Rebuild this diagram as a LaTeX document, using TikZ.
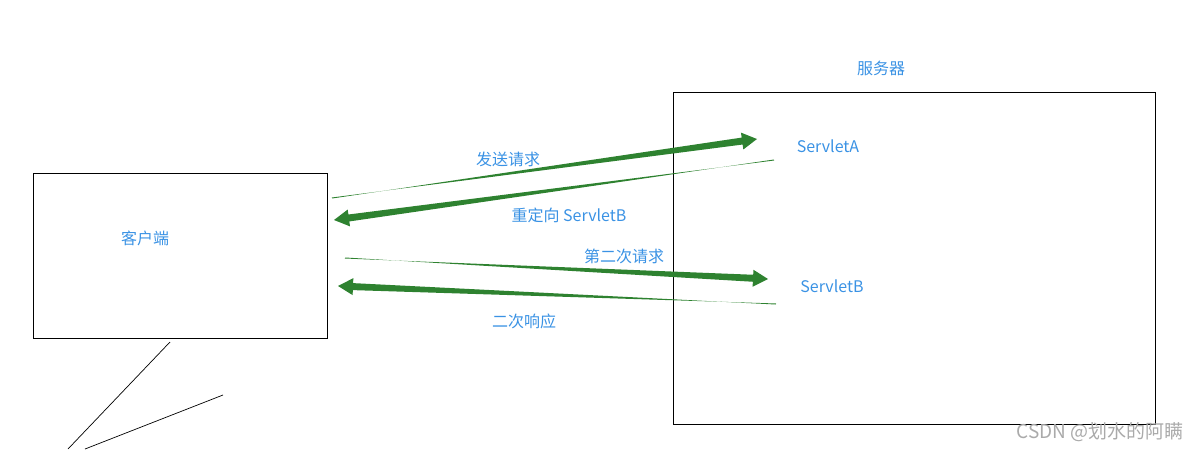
\documentclass[tikz,border=0pt]{standalone}
\usepackage{fontspec}
\newfontfamily\cjk{Noto Sans CJK SC}
\usetikzlibrary{calc,positioning}
\definecolor{flowgreen}{RGB}{46,130,48}
\definecolor{labelblue}{RGB}{58,146,228}
\definecolor{markgray}{RGB}{170,170,170}

% tapered arrow from a thin tail to a thick head
\newcommand{\taperarrow}[2]{%
\path (#2) coordinate (tip) ($(#2)!15pt!(#1)$) coordinate (hb);
\fill[flowgreen] ($(#1)!0.5pt!90:(#2)$) -- ($(hb)!3.5pt!-90:(tip)$) -- ($(hb)!8.5pt!-90:(tip)$)
  -- (tip) -- ($(hb)!8.5pt!90:(tip)$) -- ($(hb)!3.5pt!90:(tip)$) -- ($(#1)!0.5pt!-90:(#2)$) -- cycle;
}

\begin{document}
\begin{tikzpicture}
[x=1pt,y=-1pt,
box/.style={draw,line width=0.8pt},
lbl/.style={text=labelblue,font=\cjk\fontsize{16}{19}\selectfont,inner sep=0pt}]
\useasboundingbox (0,0) rectangle (1202,450);
\draw[box] (33,173) rectangle (327,338);
\draw[box] (673,92) rectangle (1155,424);
\node[lbl] (client) at (145,238) {客户端};
\node[lbl] (server) at (881,68) {服务器};
\node[lbl] (sa) at (828,146) {ServletA};
\node[lbl] (sb) at (832,286) {ServletB};
\node[lbl] (send) at (508,159) {发送请求};
\node[lbl] (redir) at (569,215) {重定向 ServletB};
\node[lbl] (again) at (624,256) {第二次请求};
\node[lbl] (resp) at (524,321) {二次响应};
% arrow ends
\coordinate (s1) at (332,198); \coordinate (e1) at (757,139);
\coordinate (s2) at (774,160); \coordinate (e2) at (334,220);
\coordinate (s3) at (345,258); \coordinate (e3) at (768,279);
\coordinate (s4) at (776,304); \coordinate (e4) at (338,286);
\taperarrow{s1}{e1}
\taperarrow{s2}{e2}
\taperarrow{s3}{e3}
\taperarrow{s4}{e4}
% stray strokes
\coordinate (l1a) at (170,342); \coordinate (l1b) at (68,449);
\coordinate (l2a) at (223,395); \coordinate (l2b) at (85,449);
\draw[line width=0.7pt] (l1a) -- (l1b);
\draw[line width=0.7pt] (l2a) -- (l2b);
\node[text=markgray,font=\cjk\fontsize{19}{22}\selectfont,inner sep=0pt] (mark) at (1100,432) {CSDN @划水的阿瞒};
\end{tikzpicture}
\end{document}
